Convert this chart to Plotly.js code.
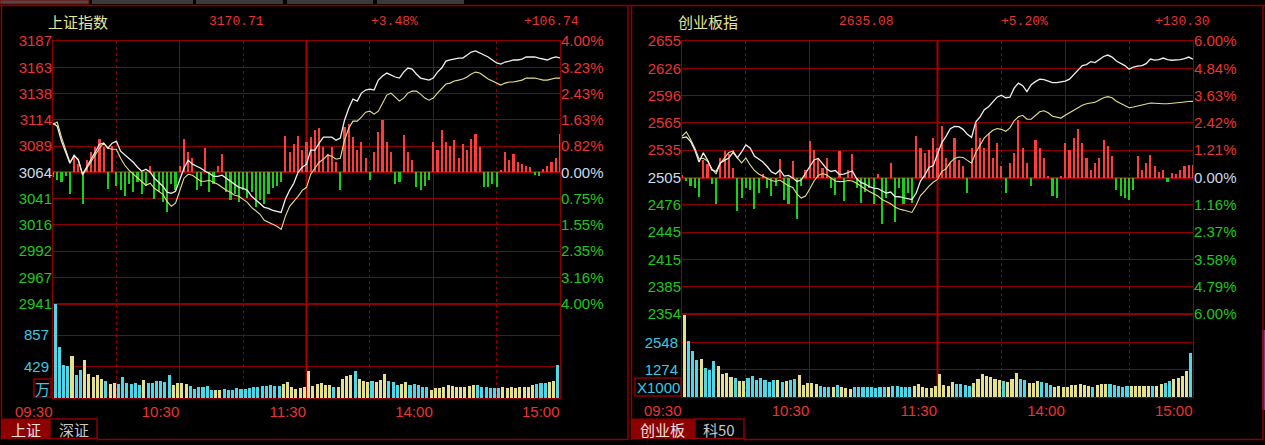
<!DOCTYPE html>
<html><head><meta charset="utf-8">
<script src="https://cdn.plot.ly/plotly-3.0.1.min.js"></script>
<style>html,body{margin:0;padding:0;background:#000;overflow:hidden}#chart{width:1265px;height:445px}</style>
</head><body><div id="chart"></div>
<script>
// ===================== DATA =====================
const timeLabels = ['09:30','10:30','11:30','14:00','15:00'];
const timeTicks = [0, 60, 120, 180, 240];

// 上证指数
const sh_name = '上证指数';
const sh_prevClose = 3063.97;
const sh_last = 3170.71;
const sh_chg = 106.74;
const sh_pct = 3.48;
const sh_priceLabels = ['3187','3163','3138','3114','3089','3064','3041','3016','2992','2967','2941'];
const sh_pctLabels = ['4.00%','3.23%','2.43%','1.63%','0.82%','0.00%','0.75%','1.55%','2.35%','3.16%','4.00%'];
const sh_volLabels = ['429','857'];
const sh_volTicks = [429, 857];
const sh_volUnit = '万';
// price every 2 minutes (09:30 .. 15:00 trading minutes)
const sh_price = [3109.8,3107.0,3093.0,3081.8,3072.4,3079.9,3075.2,3062.1,3069.6,3076.1,3082.7,
 3090.2,3091.1,3086.4,3091.1,3093.0,3083.6,3079.9,3077.1,3073.3,3068.6,
 3064.9,3066.8,3064.0,3058.4,3054.6,3050.9,3045.3,3044.3,3046.2,3056.5,
 3067.7,3075.2,3071.5,3069.6,3067.7,3064.9,3063.0,3060.2,3060.2,3061.2,
 3058.4,3055.6,3052.7,3049.9,3049.0,3047.1,3041.5,3037.8,3034.0,3031.2,
 3030.3,3028.4,3027.5,3026.5,3038.7,3047.1,3053.7,3064.0,3068.6,3071.5,
 3084.6,3084.6,3091.1,3096.7,3096.7,3096.7,3093.9,3095.8,3112.6,3123.8,
 3132.3,3130.4,3137.9,3140.7,3141.6,3140.7,3150.0,3153.8,3156.6,3154.7,
 3152.9,3151.9,3157.5,3161.3,3160.3,3155.7,3151.9,3151.0,3150.0,3151.9,
 3157.5,3161.3,3167.8,3168.8,3169.7,3170.6,3170.6,3173.4,3176.2,3177.2,
 3175.3,3173.4,3171.6,3168.8,3166.0,3165.0,3166.9,3167.8,3168.8,3168.8,
 3169.7,3171.6,3171.6,3171.6,3170.6,3169.7,3168.8,3170.6,3171.6,3170.71];
const sh_avg = [3108.9,3110.8,3096.7,3085.5,3073.3,3079.0,3076.1,3061.2,3067.7,3074.3,3080.8,
 3086.4,3091.1,3086.4,3085.5,3085.5,3077.1,3070.5,3065.8,3062.1,3058.4,
 3054.6,3051.8,3053.7,3049.0,3046.2,3043.4,3036.8,3032.2,3035.0,3046.2,
 3058.4,3062.1,3061.2,3058.4,3055.6,3055.6,3056.5,3054.6,3052.7,3049.9,
 3047.1,3045.3,3042.5,3041.5,3038.7,3035.9,3031.2,3027.5,3024.7,3019.1,
 3017.2,3015.3,3013.5,3010.6,3022.8,3032.2,3036.8,3041.5,3047.1,3049.9,
 3062.1,3067.7,3073.3,3076.1,3079.9,3079.0,3076.1,3077.1,3093.9,3105.1,
 3111.7,3111.7,3115.4,3120.1,3121.0,3118.2,3121.0,3128.5,3136.0,3137.9,
 3134.1,3130.4,3133.2,3137.9,3139.7,3139.7,3136.9,3133.2,3131.3,3133.2,
 3137.9,3142.6,3146.3,3147.2,3149.1,3150.0,3151.0,3152.9,3155.7,3157.5,
 3156.6,3153.8,3151.0,3149.1,3147.2,3145.4,3147.2,3148.2,3148.2,3149.1,
 3150.0,3151.9,3151.9,3151.9,3151.0,3150.0,3150.0,3151.0,3151.9,3151.9];
const sh_flow = [-5,-8,-10,-4,-22,15,8,-32,12,20,25,
 33,25,-17,26,-14,-18,-24,-12,-20,-10,
 -22,-14,6,-27,-20,-30,-40,-12,-18,6,
 33,20,14,-18,-14,24,-20,-12,6,18,
 -20,-28,-22,-30,-18,-26,-20,-35,-28,-32,
 -22,-16,-14,-10,36,20,28,36,22,30,
 35,42,44,25,18,25,10,-18,45,48,
 35,22,30,14,-8,20,40,52,30,20,
 -12,-10,37,20,12,-15,-18,-14,-8,30,
 22,42,30,26,32,14,28,22,33,38,
 25,-15,-15,-12,-15,2,20,12,18,10,
 8,6,5,-3,-4,3,6,10,14,38];
const sh_vol = [1280,700,452,438,567,314,383,521,328,281,
 314,254,235,189,198,189,281,198,185,198,
 175,244,208,198,235,235,221,309,175,198,
 208,189,161,129,143,152,161,115,106,115,
 120,106,115,134,120,129,134,152,143,166,
 166,171,161,161,185,221,143,125,134,152,
 374,161,185,198,171,175,152,152,254,300,
 314,374,254,235,221,235,221,244,328,235,
 221,180,189,221,175,185,175,152,152,115,
 134,138,143,175,161,152,152,143,161,175,
 180,152,143,138,138,134,152,134,143,138,
 143,143,148,171,185,198,198,217,235,452];

// 创业板指
const cy_name = '创业板指';
const cy_prevClose = 2504.78;
const cy_last = 2635.08;
const cy_chg = 130.30;
const cy_pct = 5.20;
const cy_priceLabels = ['2655','2626','2596','2565','2535','2505','2476','2445','2415','2385','2354'];
const cy_pctLabels = ['6.00%','4.84%','3.63%','2.42%','1.21%','0.00%','1.16%','2.37%','3.58%','4.79%','6.00%'];
const cy_volLabels = ['1274','2548'];
const cy_volTicks = [1274, 2548];
const cy_volUnit = 'X1000';
const cy_price = [2548.4,2549.5,2544.6,2535.2,2521.9,2531.9,2524.1,2513.1,2511.4,2520.8,2523.6,
 2526.3,2532.4,2526.3,2533.0,2540.7,2537.4,2528.5,2525.2,2521.9,2516.9,
 2510.9,2508.6,2513.1,2506.4,2507.0,2504.2,2500.4,2502.0,2509.2,2516.4,
 2524.1,2525.8,2520.3,2514.2,2511.4,2512.5,2508.1,2508.6,2510.3,2512.0,
 2503.7,2499.3,2497.6,2494.8,2493.2,2492.6,2489.9,2487.7,2488.8,2483.8,
 2483.6,2482.7,2481.8,2480.5,2487.7,2500.9,2507.5,2515.8,2518.0,2529.6,
 2542.9,2550.1,2558.4,2561.1,2560.8,2557.8,2552.3,2549.0,2566.1,2571.6,
 2579.4,2582.7,2588.2,2593.2,2595.4,2592.6,2593.2,2603.1,2608.7,2605.9,
 2599.3,2607.0,2610.3,2613.1,2612.5,2610.9,2609.2,2609.2,2610.3,2610.9,
 2613.1,2618.1,2622.5,2628.0,2629.1,2632.4,2631.3,2634.6,2638.0,2639.6,
 2637.4,2633.0,2630.2,2628.0,2624.1,2626.4,2627.5,2628.0,2630.2,2635.2,
 2634.1,2634.6,2636.3,2634.6,2633.9,2633.9,2634.6,2635.7,2637.4,2635.08];
const cy_avg = [2550.1,2555.1,2546.8,2537.4,2525.2,2526.0,2523.0,2514.7,2508.6,2520.3,2526.3,
 2532.4,2534.1,2526.3,2520.8,2526.3,2518.6,2512.5,2508.6,2506.4,2504.2,
 2501.5,2500.4,2502.0,2498.7,2495.7,2493.7,2486.6,2482.1,2484.4,2492.1,
 2500.9,2507.0,2509.2,2507.5,2504.2,2500.9,2500.2,2500.4,2501.5,2500.9,
 2498.4,2494.8,2492.1,2489.3,2487.1,2484.4,2480.5,2478.3,2475.8,2472.2,
 2470.0,2468.9,2467.8,2466.3,2474.4,2484.9,2489.9,2495.4,2499.5,2502.6,
 2511.2,2514.4,2521.4,2525.8,2527.4,2526.9,2523.6,2520.5,2532.4,2541.2,
 2548.4,2552.8,2556.7,2558.7,2557.8,2555.6,2559.5,2567.2,2571.6,2573.3,
 2568.9,2568.9,2573.1,2577.2,2578.3,2576.1,2572.2,2571.1,2570.2,2573.3,
 2576.1,2579.4,2582.2,2584.4,2586.0,2586.6,2587.7,2590.1,2592.6,2593.8,
 2592.6,2588.8,2586.3,2584.1,2581.6,2582.4,2583.6,2584.6,2585.7,2586.8,
 2586.5,2586.0,2586.0,2586.0,2586.3,2586.8,2587.5,2587.9,2588.4,2588.6];
const cy_flow = [3,-3,-8,-10,-19,18,14,-6,-26,20,27,
 24,10,-33,-20,-10,-12,-31,-15,4,-10,
 -18,-8,19,-22,-26,17,-41,-8,8,37,
 28,20,10,20,-10,-17,27,-23,8,24,
 -10,-25,-14,-10,-26,4,-46,-20,15,-44,
 -10,-26,-15,-25,42,30,25,28,40,30,
 52,20,15,40,18,12,-15,30,55,40,
 30,45,20,35,12,-15,15,25,58,30,
 15,-8,38,30,20,2,-18,-20,2,35,
 28,40,49,35,20,8,15,20,38,32,
 22,-12,-18,-20,-22,-12,22,8,15,23,
 12,6,8,-4,5,4,8,12,13,13];
const cy_vol = [3850,2600,2151,1720,1784,1354,1274,1673,1434,1083,
 1115,924,876,749,765,876,988,797,908,812,
 717,797,797,685,733,797,828,1035,573,637,
 653,605,510,462,446,462,542,446,398,366,
 446,462,446,446,446,398,446,446,478,494,
 526,462,478,462,526,605,446,398,430,526,
 1083,573,510,685,605,605,573,494,669,844,
 1083,988,924,860,797,749,717,844,1115,860,
 797,669,637,765,701,637,558,478,494,446,
 478,542,558,605,558,510,478,542,589,605,
 605,558,510,478,510,494,494,494,510,526,
 526,526,589,669,749,860,892,988,1195,2039];

const tabsLeft = ['上证','深证'];
const tabsRight = ['创业板','科50'];

// ===================== STYLE / LAYOUT =====================
const W = 1265, H = 445;
const PX = x => x / W, PY = y => 1 - y / H;
const GRID = '#8c0000', FRAME = '#8c0000';
const RED_T = '#e83434', GREEN_T = '#1ec81e', BASE_T = '#c8dcf0', CYAN_T = '#3cc8e0';
const BAR_UP = '#ff3c3c', BAR_DN = '#14d214';
const LINE_W = '#f0f0f0', LINE_Y = '#e6e08a';
const VOL_UP = '#e4e08c', VOL_DN = '#4cd8e8';
const NUMFONT = 'Liberation Sans';
const CJK = 'Noto Sans CJK SC';

const lineT = []; for (let m = 0; m <= 240; m += 2) lineT.push(m);
const volT = []; for (let m = 1; m < 240; m += 2) volT.push(m);

function levels(prev, stepPct) { const a = []; for (let k = 5; k >= -5; k--) a.push(prev * (1 + k * stepPct / 100)); return a; }
function colored(labels) {
  return labels.map((s, i) => `<span style="color:${i < 5 ? RED_T : (i === 5 ? BASE_T : GREEN_T)}">${s}</span>`);
}

function xMainAxis(dom) {
  return {domain: dom, range: [0, 240], showticklabels: false, tickmode: 'array', tickvals: [60, 120, 180],
    showgrid: true, gridcolor: GRID, gridwidth: 1, zeroline: false, ticks: '',
    showline: true, linecolor: FRAME, linewidth: 1, mirror: true, fixedrange: true,
    minor: {tickmode: 'array', tickvals: [30, 90, 150, 210], showgrid: true, gridcolor: GRID, griddash: 'dot', gridwidth: 1}};
}
function xVolAxis(dom, anchor) {
  return {domain: dom, anchor: anchor, range: [0, 240], tickmode: 'array', tickvals: timeTicks, ticktext: timeLabels,
    ticklabelposition: 'outside left', tickfont: {family: NUMFONT, size: 15, color: RED_T},
    showgrid: true, gridcolor: GRID, gridwidth: 1, zeroline: false, ticks: '',
    showline: true, linecolor: FRAME, linewidth: 1, mirror: true, fixedrange: true,
    minor: {tickmode: 'array', tickvals: [30, 90, 150, 210], showgrid: true, gridcolor: GRID, griddash: 'dot', gridwidth: 1}};
}
function barAxis(dom, anchor, half) {
  return {domain: dom, anchor: anchor, range: [-half, half], showticklabels: false, showgrid: false,
    zeroline: true, zerolinecolor: '#b00000', zerolinewidth: 2, ticks: '',
    showline: true, linecolor: FRAME, mirror: true, fixedrange: true};
}
function priceAxis(base, anchor, lv, labels) {
  return {overlaying: base, anchor: anchor, side: 'left', range: [lv[10], lv[0]], tickmode: 'array', tickvals: lv,
    ticktext: colored(labels), tickfont: {family: NUMFONT, size: 15}, showgrid: true, gridcolor: GRID, gridwidth: 1,
    zeroline: false, showline: false, ticks: '', fixedrange: true};
}
function pctAxis(base, anchor, lv, labels) {
  return {overlaying: base, anchor: anchor, side: 'right', range: [lv[10], lv[0]], tickmode: 'array', tickvals: lv,
    ticktext: colored(labels), tickfont: {family: NUMFONT, size: 15}, showgrid: false,
    zeroline: false, showline: false, ticks: '', fixedrange: true};
}
function volAxis(dom, anchor, top, ticks, labels) {
  return {domain: dom, anchor: anchor, range: [0, top], tickmode: 'array', tickvals: ticks, ticktext: labels,
    tickfont: {family: NUMFONT, size: 15, color: CYAN_T}, showgrid: true, gridcolor: GRID, gridwidth: 1,
    zeroline: false, showline: true, linecolor: FRAME, mirror: true, ticks: '', fixedrange: true};
}

const sh_lv = levels(sh_prevClose, 0.8);
const cy_lv = levels(cy_prevClose, 1.2);

const LX = [PX(53), PX(560)], RX = [PX(682), PX(1193)];
const L_MAIN = [PY(303.5), PY(41)], L_VOL = [PY(398), PY(303.5)];
const R_MAIN = [PY(314), PY(41)], R_VOL = [PY(397), PY(314)];

function volColors(vol, price) { return vol.map((v, i) => price[i + 1] >= price[i] ? VOL_UP : VOL_DN); }

const traces = [
  // left panel
  {type: 'bar', x: lineT, y: sh_flow, xaxis: 'x', yaxis: 'y', width: 1.0,
   marker: {color: sh_flow.map(v => v >= 0 ? BAR_UP : BAR_DN), line: {width: 0}}},
  {type: 'scatter', mode: 'lines', x: lineT, y: sh_avg, xaxis: 'x', yaxis: 'y2', line: {color: LINE_Y, width: 1.1}},
  {type: 'scatter', mode: 'lines', x: lineT, y: sh_price, xaxis: 'x', yaxis: 'y2', line: {color: LINE_W, width: 1.3}},
  {type: 'scatter', mode: 'lines', x: [], y: [], xaxis: 'x', yaxis: 'y3'},
  {type: 'bar', x: volT, y: sh_vol, xaxis: 'x2', yaxis: 'y4', width: 1.45,
   marker: {color: volColors(sh_vol, sh_price), line: {width: 0}}},
  // right panel
  {type: 'bar', x: lineT, y: cy_flow, xaxis: 'x3', yaxis: 'y5', width: 1.0,
   marker: {color: cy_flow.map(v => v >= 0 ? BAR_UP : BAR_DN), line: {width: 0}}},
  {type: 'scatter', mode: 'lines', x: lineT, y: cy_avg, xaxis: 'x3', yaxis: 'y6', line: {color: LINE_Y, width: 1.1}},
  {type: 'scatter', mode: 'lines', x: lineT, y: cy_price, xaxis: 'x3', yaxis: 'y6', line: {color: LINE_W, width: 1.3}},
  {type: 'scatter', mode: 'lines', x: [], y: [], xaxis: 'x3', yaxis: 'y7'},
  {type: 'bar', x: volT, y: cy_vol, xaxis: 'x4', yaxis: 'y8', width: 1.45,
   marker: {color: volColors(cy_vol, cy_price), line: {width: 0}}}
];

function hdr(x, y, text, color, size, family) {
  return {xref: 'paper', yref: 'paper', x: PX(x), y: PY(y), xanchor: 'center', yanchor: 'middle',
    text: text, showarrow: false, font: {family: family, size: size, color: color}};
}
const sign = v => (v >= 0 ? '+' : '') + v.toFixed(2);
const annotations = [
  hdr(78, 22, sh_name, '#e6e696', 15, CJK),
  hdr(236, 22, sh_last.toFixed(2), RED_T, 13, 'Liberation Mono'),
  hdr(394, 22, sign(sh_pct) + '%', RED_T, 13, 'Liberation Mono'),
  hdr(551, 22, sign(sh_chg), RED_T, 13, 'Liberation Mono'),
  hdr(708, 22, cy_name, '#e6e696', 15, CJK),
  hdr(866, 22, cy_last.toFixed(2), RED_T, 13, 'Liberation Mono'),
  hdr(1024, 22, sign(cy_pct) + '%', RED_T, 13, 'Liberation Mono'),
  hdr(1182, 22, sign(cy_chg), RED_T, 13, 'Liberation Mono'),
  hdr(42.5, 388, sh_volUnit, CYAN_T, 15, CJK),
  hdr(658, 387, cy_volUnit, CYAN_T, 15, NUMFONT),
  hdr(26, 429, tabsLeft[0], '#f0e0e0', 15, CJK),
  hdr(74, 429, tabsLeft[1], '#c8c8c8', 15, CJK),
  hdr(662, 429, tabsRight[0], '#f0e0e0', 15, CJK),
  hdr(719, 429, tabsRight[1], '#c8c8c8', 15, CJK)
];

function rect(x0, y0, x1, y1, fill, line, lw) {
  return {type: 'rect', xref: 'paper', yref: 'paper', x0: PX(x0), x1: PX(x1), y0: PY(y1), y1: PY(y0),
    fillcolor: fill, line: {color: line || fill, width: lw === undefined ? 1 : lw}, layer: 'below'};
}
function hline(x0, x1, y, color, w) {
  return {type: 'line', xref: 'paper', yref: 'paper', x0: PX(x0), x1: PX(x1), y0: PY(y), y1: PY(y), line: {color: color, width: w || 1}};
}
function vline(x, y0, y1, color, w) {
  return {type: 'line', xref: 'paper', yref: 'paper', x0: PX(x), x1: PX(x), y0: PY(y0), y1: PY(y1), line: {color: color, width: w || 1}};
}
const shapes = [
  // top tab strip
  rect(0, 0, 89, 4, '#4a4a4a', '#8c0000', 1),
  rect(92, 0, 193, 4, '#3a3a3a', '#3a3a3a', 0),
  rect(196, 0, 283, 4, '#3a3a3a', '#3a3a3a', 0),
  rect(287, 0, 373, 4, '#3a3a3a', '#3a3a3a', 0),
  rect(377, 0, 464, 4, '#3a3a3a', '#3a3a3a', 0),
  hline(0, 1265, 5.5, FRAME, 1.5),
  // panel frames
  vline(1.5, 5, 440, FRAME, 1.5),
  vline(628, 5, 440, FRAME, 1.5),
  vline(631.5, 5, 440, FRAME, 1.5),
  vline(1263, 5, 440, FRAME, 1.5),
  hline(97, 628, 439.5, FRAME, 1.5),
  hline(744, 1263, 439.5, FRAME, 1.5),
  rect(1262, 330, 1265, 410, '#7a3a9a', '#7a3a9a', 0),
  // unit boxes
  rect(34, 379, 51, 397, 'rgba(0,0,0,0)', FRAME, 1.5),
  rect(635, 378, 681, 396, 'rgba(0,0,0,0)', FRAME, 1.5),
  // bottom tabs
  rect(2.5, 419, 50, 438.5, '#8c0000', '#8c0000', 1),
  rect(50, 419, 97, 438.5, '#000000', FRAME, 1.5),
  rect(631.5, 419, 695, 438.5, '#8c0000', '#8c0000', 1),
  rect(695, 419, 744, 438.5, '#000000', FRAME, 1.5),
  // emphasised midday lines
  {type: 'line', xref: 'x', yref: 'y', x0: 120, x1: 120, y0: -131.25, y1: 131.25, line: {color: '#a80000', width: 2}, layer: 'between'},
  {type: 'line', xref: 'x2', yref: 'y4', x0: 120, x1: 120, y0: 0, y1: 1286, line: {color: '#a80000', width: 2}, layer: 'between'},
  {type: 'line', xref: 'x3', yref: 'y5', x0: 120, x1: 120, y0: -136.5, y1: 136.5, line: {color: '#a80000', width: 2}, layer: 'between'},
  {type: 'line', xref: 'x4', yref: 'y8', x0: 120, x1: 120, y0: 0, y1: 3880, line: {color: '#a80000', width: 2}, layer: 'between'}
];

const layout = {
  width: W, height: H, margin: {l: 0, r: 0, t: 0, b: 0, pad: 0},
  paper_bgcolor: '#000', plot_bgcolor: '#000', showlegend: false, hovermode: false, bargap: 0,
  font: {family: NUMFONT, color: RED_T},
  xaxis: xMainAxis(LX),
  yaxis: barAxis(L_MAIN, 'x', 131.25),
  yaxis2: priceAxis('y', 'x', sh_lv, sh_priceLabels),
  yaxis3: pctAxis('y', 'x', sh_lv, sh_pctLabels),
  xaxis2: xVolAxis(LX, 'y4'),
  yaxis4: volAxis(L_VOL, 'x2', 1286, sh_volTicks.concat([1286]), sh_volLabels.concat([''])),
  xaxis3: Object.assign(xMainAxis(RX), {anchor: 'y5'}),
  yaxis5: barAxis(R_MAIN, 'x3', 136.5),
  yaxis6: priceAxis('y5', 'x3', cy_lv, cy_priceLabels),
  yaxis7: pctAxis('y5', 'x3', cy_lv, cy_pctLabels),
  xaxis4: xVolAxis(RX, 'y8'),
  yaxis8: volAxis(R_VOL, 'x4', 3880, cy_volTicks.concat([3880]), cy_volLabels.concat([''])),
  annotations: annotations,
  shapes: shapes
};
layout.xaxis.anchor = 'y';

Plotly.newPlot('chart', traces, layout, {staticPlot: true, displayModeBar: false});
</script>
</body></html>
